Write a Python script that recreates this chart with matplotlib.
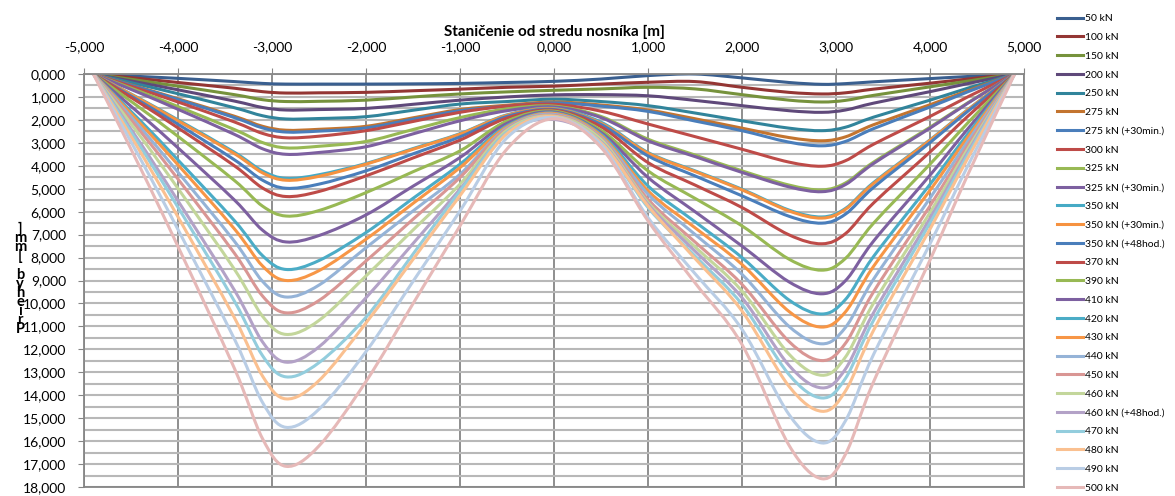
import numpy as np
import matplotlib.pyplot as plt
from matplotlib.ticker import MultipleLocator, FuncFormatter
from matplotlib.path import Path
from matplotlib.patches import PathPatch
from matplotlib.lines import Line2D

plt.rcParams['font.family'] = ['Lato', 'DejaVu Sans']

# stations [m]
x_m = [-4.9, -4.4, -4.0, -3.4, -3.1, -2.85, -2.5, -2.0, -1.5, -1.0, -0.5, 0.0,
       0.5, 1.0, 1.5, 2.0, 2.5, 2.85, 3.1, 3.4, 4.0, 4.4, 4.9]

# deflections [mm] per load step
d50 = [0, .11, .19, .33, .41, .44, .44, .44, .43, .41, .37, .32, .22, .07, .0, .17, .37, .45, .42, .34, .20, .11, 0]
d100 = [0, .20, .37, .62, .77, .83, .82, .80, .73, .66, .58, .53, .44, .36, .33, .58, .80, .87, .82, .66, .40, .22, 0]
d150 = [0, .29, .53, .90, 1.12, 1.20, 1.19, 1.14, 1.0, .87, .78, .71, .65, .58, .65, .90, 1.14, 1.22, 1.15, .93, .56, .31, 0]
d200 = [0, .38, .69, 1.18, 1.46, 1.57, 1.55, 1.50, 1.32, 1.14, 1.0, .91, .90, .95, 1.15, 1.38, 1.60, 1.67, 1.57, 1.27, .77, .42, 0]
d250 = [0, .47, .86, 1.47, 1.82, 1.96, 1.94, 1.86, 1.58, 1.31, 1.2, 1.1, 1.2, 1.38, 1.70, 2.04, 2.36, 2.47, 2.32, 1.88, 1.14, .62, 0]
d275 = [0, .59, 1.08, 1.84, 2.28, 2.45, 2.41, 2.28, 1.91, 1.55, 1.36, 1.22, 1.35, 1.57, 1.95, 2.36, 2.77, 2.91, 2.74, 2.21, 1.34, .73, 0]
d275_30 = [0, .61, 1.11, 1.90, 2.35, 2.53, 2.49, 2.35, 1.97, 1.60, 1.40, 1.26, 1.40, 1.63, 2.05, 2.47, 2.97, 3.13, 2.94, 2.38, 1.44, .78, 0]
d300 = [0, .67, 1.22, 2.09, 2.59, 2.78, 2.71, 2.47, 2.07, 1.67, 1.40, 1.32, 1.62, 2.18, 2.73, 3.28, 3.84, 4.02, 3.78, 3.06, 1.85, 1.0, 0]
d325 = [0, .77, 1.42, 2.42, 2.99, 3.22, 3.15, 2.94, 2.42, 1.90, 1.52, 1.40, 1.85, 2.84, 3.53, 4.22, 4.84, 5.05, 4.75, 3.84, 2.32, 1.26, 0]
d325_30 = [0, .84, 1.54, 2.63, 3.26, 3.50, 3.42, 3.17, 2.61, 2.04, 1.60, 1.44, 1.90, 2.91, 3.60, 4.29, 4.92, 5.13, 4.82, 3.90, 2.36, 1.28, 0]
d350 = [0, 1.09, 2.0, 3.41, 4.23, 4.55, 4.39, 3.90, 3.25, 2.60, 1.78, 1.50, 2.10, 3.42, 4.22, 5.02, 5.93, 6.23, 5.86, 4.73, 2.87, 1.56, 0]
d350_30 = [0, 1.11, 2.04, 3.47, 4.31, 4.63, 4.46, 3.93, 3.28, 2.62, 1.80, 1.52, 2.15, 3.45, 4.25, 5.05, 5.97, 6.28, 5.90, 4.77, 2.89, 1.57, 0]
d350_48 = [0, 1.20, 2.19, 3.74, 4.63, 4.98, 4.80, 4.22, 3.48, 2.74, 1.85, 1.55, 2.20, 3.57, 4.44, 5.31, 6.20, 6.50, 6.11, 4.94, 2.99, 1.63, 0]
d370 = [0, 1.28, 2.35, 4.0, 4.97, 5.34, 5.12, 4.44, 3.66, 2.88, 1.92, 1.58, 2.30, 3.86, 4.84, 5.82, 7.01, 7.40, 6.96, 5.62, 3.40, 1.85, 0]
d390 = [0, 1.49, 2.72, 4.64, 5.76, 6.19, 5.95, 5.17, 4.26, 3.35, 2.05, 1.62, 2.45, 4.22, 5.42, 6.62, 8.07, 8.55, 8.04, 6.50, 3.93, 2.14, 0]
d410 = [0, 1.76, 3.22, 5.49, 6.81, 7.32, 7.04, 6.14, 4.89, 3.64, 2.15, 1.66, 2.55, 4.51, 6.0, 7.5, 9.06, 9.58, 9.01, 7.28, 4.41, 2.40, 0]
d420 = [0, 2.04, 3.75, 6.39, 7.92, 8.52, 8.13, 6.91, 5.42, 3.93, 2.25, 1.70, 2.62, 4.88, 6.44, 8.0, 9.85, 10.46, 9.83, 7.95, 4.81, 2.62, 0]
d430 = [0, 2.16, 3.96, 6.75, 8.37, 9.0, 8.57, 7.20, 5.64, 4.08, 2.30, 1.72, 2.68, 5.09, 6.70, 8.30, 10.35, 11.03, 10.37, 8.38, 5.07, 2.76, 0]
d440 = [0, 2.33, 4.28, 7.29, 9.04, 9.72, 9.20, 7.57, 5.97, 4.37, 2.35, 1.76, 2.75, 5.24, 6.99, 8.73, 11.0, 11.76, 11.05, 8.94, 5.41, 2.94, 0]
d450 = [0, 2.50, 4.58, 7.81, 9.68, 10.41, 9.87, 8.15, 6.33, 4.51, 2.40, 1.80, 2.80, 5.46, 7.32, 9.17, 11.66, 12.49, 11.74, 9.49, 5.75, 3.12, 0]
d460 = [0, 2.72, 4.99, 8.51, 10.56, 11.35, 10.74, 8.80, 6.80, 4.80, 2.45, 1.84, 2.85, 5.60, 7.53, 9.46, 12.21, 13.13, 12.34, 9.98, 6.04, 3.28, 0]
d460_48 = [0, 3.01, 5.53, 9.42, 11.68, 12.56, 11.89, 9.75, 7.39, 5.02, 2.55, 1.98, 2.95, 5.68, 7.72, 9.75, 12.70, 13.68, 12.86, 10.40, 6.29, 3.42, 0]
d470 = [0, 3.17, 5.81, 9.90, 12.28, 13.2, 12.58, 10.6, 7.85, 5.10, 2.55, 1.86, 2.98, 5.82, 7.93, 10.04, 13.1, 14.12, 13.27, 10.73, 6.50, 3.53, 0]
d480 = [0, 3.40, 6.23, 10.62, 13.17, 14.16, 13.36, 10.85, 8.08, 5.30, 2.60, 1.86, 3.00, 5.75, 8.04, 10.33, 13.61, 14.70, 13.82, 11.17, 6.76, 3.68, 0]
d490 = [0, 3.70, 6.78, 11.55, 14.32, 15.4, 14.61, 12.1, 9.04, 5.97, 2.78, 1.90, 3.08, 6.26, 8.70, 11.13, 14.84, 16.08, 15.12, 12.22, 7.40, 4.02, 0]
d500 = [0, 4.10, 7.52, 12.83, 15.90, 17.1, 16.21, 13.4, 10.01, 6.62, 3.27, 1.95, 3.20, 6.40, 9.10, 11.79, 16.18, 17.64, 16.58, 13.41, 8.11, 4.41, 0]

labels = ['50 kN', '100 kN', '150 kN', '200 kN', '250 kN', '275 kN', '275 kN (+30min.)',
          '300 kN', '325 kN', '325 kN (+30min.)', '350 kN', '350 kN (+30min.)',
          '350 kN (+48hod.)', '370 kN', '390 kN', '410 kN', '420 kN', '430 kN', '440 kN',
          '450 kN', '460 kN', '460 kN (+48hod.)', '470 kN', '480 kN', '490 kN', '500 kN']
series = [d50, d100, d150, d200, d250, d275, d275_30, d300, d325, d325_30, d350, d350_30,
          d350_48, d370, d390, d410, d420, d430, d440, d450, d460, d460_48, d470, d480,
          d490, d500]

colors = ['#3A5F8F', '#943634', '#76923C', '#5F497A', '#31849B', '#C3742F',
          '#4A7EBB', '#BE4B48', '#98B954', '#7D60A0', '#46AAC5', '#F69240',
          '#4A7EBB', '#BE4B48', '#98B954', '#7D60A0', '#4BACC6', '#F79646',
          '#95B3D7', '#D99694', '#C3D69B', '#B3A2C7', '#93CDDD', '#FAC090',
          '#B9CDE5', '#E6B9B8']


def smooth_path(xs, ys):
    # Excel-like smoothed line: cubic Bezier through the points
    p = np.column_stack([xs, ys]).astype(float)
    n = len(p)
    verts = [p[0]]
    codes = [Path.MOVETO]
    for i in range(n - 1):
        p0 = p[max(i - 1, 0)]
        p1 = p[i]
        p2 = p[i + 1]
        p3 = p[min(i + 2, n - 1)]
        verts += [p1 + (p2 - p0) / 6, p2 - (p3 - p1) / 6, p2]
        codes += [Path.CURVE4] * 3
    return Path(verts, codes)


fig = plt.figure(figsize=(11.75, 4.96), dpi=100)
ax = fig.add_axes([84 / 1175, 1 - 487 / 496, 940 / 1175, 413 / 496])

handles = []
for y, lab, c in zip(series, labels, colors):
    ax.add_patch(PathPatch(smooth_path(x_m, y), fill=False, edgecolor=c, lw=2.2,
                           joinstyle='round', capstyle='round', zorder=2))
    handles.append(Line2D([0], [0], color=c, lw=2.2, label=lab))

ax.set_xlim(-5, 5)
ax.set_ylim(18, 0)

fmt = FuncFormatter(lambda v, _: f'{v:.3f}'.replace('.', ','))
ax.xaxis.set_major_locator(MultipleLocator(1))
ax.yaxis.set_major_locator(MultipleLocator(1))
ax.yaxis.set_minor_locator(MultipleLocator(0.5))
ax.xaxis.set_major_formatter(fmt)
ax.yaxis.set_major_formatter(fmt)

ax.xaxis.tick_top()
ax.xaxis.set_label_position('top')
ax.tick_params(axis='x', which='major', length=4, color='#868686', labelsize=10, pad=11)
ax.tick_params(axis='y', which='major', length=4, color='#868686', labelsize=10, pad=9)
ax.tick_params(axis='y', which='minor', length=0)

ax.grid(axis='x', which='major', color='#868686', lw=1.3)
ax.grid(axis='y', which='both', color='#B8B8B8', lw=1.5)
ax.set_axisbelow(True)
for s in ax.spines.values():
    s.set_color('#868686')
    s.set_linewidth(1.3)

ax.set_xlabel('Staničenie od stredu nosníka [m]', fontsize=11, fontweight='bold', labelpad=4)

# stacked vertical y label
fig.text(20 / 1175, 1 - 279 / 496, '\n'.join(reversed('Priehyb [mm]')), fontsize=10.5,
         fontweight='bold', ha='center', va='center', linespacing=0.55)

ax.legend(handles=handles, loc='upper left', bbox_to_anchor=(1057 / 1175, 1 - 14 / 496),
          bbox_transform=fig.transFigure, frameon=False, fontsize=7.5,
          handlelength=2.5, handletextpad=0.2, labelspacing=0.91,
          borderpad=0, borderaxespad=0)

fig.savefig('out.png', dpi=100)
